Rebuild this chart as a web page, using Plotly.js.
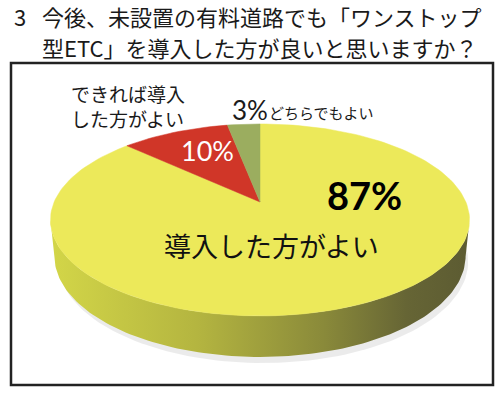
<!DOCTYPE html>
<html>
<head>
<meta charset="utf-8">
<script src="https://cdn.plot.ly/plotly-3.0.1.min.js"></script>
<style>html,body{margin:0;padding:0;background:#fff;}#chart{width:500px;height:395px;}</style>
</head>
<body>
<div id="chart"></div>
<script>
// ---- data ----
const categories = ['導入した方がよい', 'できれば導入<br>した方がよい', 'どちらでもよい'];
const shares = [87, 10, 3];
const percentLabels = ['87%', '10%', '3%'];
const titleLines = ['今後、未設置の有料道路でも「ワンストップ', '型ETC」を導入した方が良いと思いますか？'];
const questionNo = '3';

// ---- style ----
const sliceColors = ['#ece95a', '#d03628', '#9bad5f'];
const JP = '"Noto Sans CJK JP", "Noto Sans", sans-serif';
const LAT = 'Lato, "Noto Sans CJK JP", sans-serif';

// simple perspective projection of a tilted disc (in pixel space)
const P = {cx: 260, cy: 202, F: 984, D: 4.78, s: 0.45, c: 0.893, h: 0.197};
function proj(X, Y, Z) {
  const den = P.D + Y * P.c - Z * P.s;
  return [P.cx + X * P.F / den, P.cy - (Y * P.s + Z * P.c) * P.F / den];
}
function rim(a, Z) { return proj(Math.sin(a), Math.cos(a), Z); }

const traces = [];
// faint shadow under the disc
const shx = [], shy = [];
for (let i = 0; i <= 200; i++) { const p = rim(2 * Math.PI * i / 200, -P.h - 0.02); shx.push(p[0] + 3); shy.push(p[1] + 2); }
traces.push({type: 'scatter', mode: 'lines', x: shx, y: shy, fill: 'toself', fillcolor: 'rgba(0,0,0,0.08)',
  line: {width: 0, color: 'rgba(0,0,0,0)'}, hoverinfo: 'skip', showlegend: false});

// side band (front half of cylinder wall)
const a0 = Math.acos(-P.c / P.D);
const sx = [], sy = [];
const N = 120;
for (let i = 0; i <= N; i++) { const a = a0 + (2 * Math.PI - 2 * a0) * i / N; const p = rim(a, 0); sx.push(p[0]); sy.push(p[1]); }
for (let i = N; i >= 0; i--) { const a = a0 + (2 * Math.PI - 2 * a0) * i / N; const p = rim(a, -P.h); sx.push(p[0]); sy.push(p[1]); }
traces.push({
  type: 'scatter', mode: 'lines', x: sx, y: sy, fill: 'toself',
  line: {width: 0, color: 'rgba(0,0,0,0)'},
  fillgradient: {type: 'horizontal', colorscale: [[0, '#d3d648'], [0.35, '#b4b540'], [0.65, '#8a8a3a'], [0.85, '#666535'], [1, '#5c5b32']]},
  hoverinfo: 'skip', showlegend: false
});

// top face slices, clockwise from 12 o'clock
const total = shares.reduce((a, b) => a + b, 0);
let acc = 0;
shares.forEach((v, k) => {
  const t0 = acc / total, t1 = (acc + v) / total;
  acc += v;
  const apex = proj(0, 0, 0);
  const xs = [apex[0]], ys = [apex[1]];
  const n = Math.max(4, Math.round(200 * (t1 - t0)));
  for (let i = 0; i <= n; i++) {
    const a = 2 * Math.PI * (t0 + (t1 - t0) * i / n);
    const p = rim(a, 0); xs.push(p[0]); ys.push(p[1]);
  }
  xs.push(apex[0]); ys.push(apex[1]);
  traces.push({
    type: 'scatter', mode: 'lines', x: xs, y: ys, fill: 'toself',
    fillcolor: sliceColors[k], line: {width: 0.5, color: sliceColors[k]},
    name: categories[k], hoverinfo: 'name', showlegend: false
  });
});

const annotations = [
  {x: 13, y: 16, text: questionNo, xanchor: 'left', font: {family: JP, size: 22, color: '#1a1a1a'}},
  {x: 41, y: 16, text: titleLines[0], xanchor: 'left', font: {family: JP, size: 22, color: '#1a1a1a'}},
  {x: 41, y: 47, text: titleLines[1], xanchor: 'left', font: {family: JP, size: 22, color: '#1a1a1a'}},
  {x: 70, y: 106, text: categories[1], xanchor: 'left', align: 'left', font: {family: JP, size: 19, color: '#1a1a1a'}},
  {x: 207, y: 150, text: percentLabels[1], font: {family: LAT, size: 27, color: '#ffffff'}},
  {x: 231, y: 110, text: percentLabels[2], xanchor: 'left', font: {family: LAT, size: 26, color: '#1a1a1a'}},
  {x: 268, y: 112, text: categories[2], xanchor: 'left', font: {family: JP, size: 15, color: '#1a1a1a'}},
  {x: 364, y: 195, text: '<b>' + percentLabels[0] + '</b>', font: {family: LAT, size: 38, color: '#000000'}},
  {x: 271, y: 245, text: categories[0], font: {family: JP, size: 27, color: '#111111'}}
].map(a => Object.assign({xref: 'x', yref: 'y', showarrow: false, borderpad: 0}, a));

const layout = {
  width: 500, height: 395,
  margin: {l: 0, r: 0, t: 0, b: 0},
  paper_bgcolor: '#ffffff', plot_bgcolor: '#ffffff',
  xaxis: {range: [0, 500], visible: false, fixedrange: true},
  yaxis: {range: [395, 0], visible: false, fixedrange: true},
  showlegend: false,
  shapes: [{type: 'rect', xref: 'x', yref: 'y', x0: 11, x1: 493, y0: 63, y1: 385, line: {color: '#222222', width: 2.5}, layer: 'below'}],
  annotations: annotations
};

Plotly.newPlot('chart', traces, layout, {displayModeBar: false, staticPlot: true});
</script>
</body>
</html>
